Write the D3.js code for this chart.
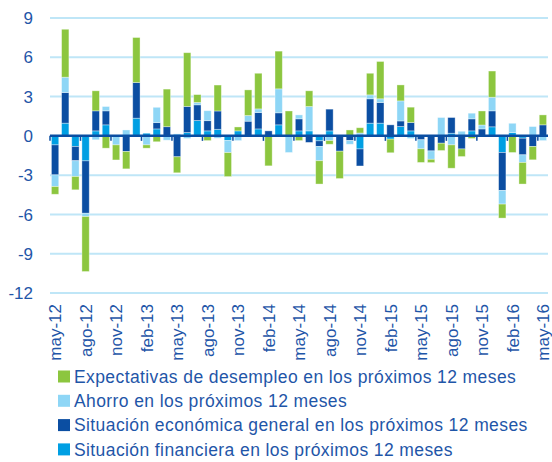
<!DOCTYPE html>
<html>
<head>
<meta charset="utf-8">
<script src="https://cdn.jsdelivr.net/npm/d3@7"></script>
<style>
  body { margin: 0; background: #fff; }
  text { font-family: "Liberation Sans", Arial, sans-serif; fill: #1f56a8; }
</style>
</head>
<body>
<div class="chart"></div>
<script>
var months = ["may-12","jun-12","jul-12","ago-12","sep-12","oct-12","nov-12","dic-12",
  "ene-13","feb-13","mar-13","abr-13","may-13","jun-13","jul-13","ago-13","sep-13","oct-13","nov-13","dic-13",
  "ene-14","feb-14","mar-14","abr-14","may-14","jun-14","jul-14","ago-14","sep-14","oct-14","nov-14","dic-14",
  "ene-15","feb-15","mar-15","abr-15","may-15","jun-15","jul-15","ago-15","sep-15","oct-15","nov-15","dic-15",
  "ene-16","feb-16","mar-16","abr-16","may-16"];

// Situación financiera en los próximos 12 meses
var financiera = [-0.69, 0.97, -0.81, -1.91, 0.38, 0.84, 0, 0, 1.35, 0.2, 0.53, 0, 0, 0.25, 1.17, 0.38, 0.5,
  -0.36, 0.38, 0, 0.53, 0, 0.84, 0, 0.38, 0.38, -0.38, 0.38, 0, 0, -1.0, 0.97, 0.97, -0.25, 0.71, 0.38,
  0, 0, 0, 0.2, 0, 0.38, 0, 0.69, -1.27, 0.25, -0.18, 0, 0];
// Situación económica general en los próximos 12 meses
var economica = [-2.29, 2.34, -1.09, -4.0, 1.53, 1.07, 0, -1.2, 2.72, 0, 0.48, 0.7, -1.6, 2.0, 1.2, 0.78, 1.4,
  0, 0, 1.12, 1.25, 0.38, 0.92, 0, 0.92, -0.5, -0.43, 1.66, -1.17, -0.36, -1.3, 1.86, 1.58, 0.84, 0.43, 0.64,
  -0.3, -1.15, -0.56, 1.2, -1.0, 0.92, 0.53, 1.22, -2.9, 0, -1.27, -0.81, 0.84];
// Ahorro en los próximos 12 meses
var ahorro = [-0.89, 1.17, -1.2, -0.25, -0.3, 0.33, -0.69, 0.45, 0, -0.69, 1.17, -0.33, 0.15, -0.2, 0.18, 0.76, -0.18,
  -0.92, -0.36, 0.43, 0.28, 0, 1.83, -1.27, 0.3, 1.86, -1.09, -0.36, 0, -0.28, 0.22, 0.3, 0.28, 0, 1.53, -0.2,
  -0.69, -0.64, 1.4, -0.69, 0.35, 0.43, 0.3, 1.04, -1.04, 0.71, -0.58, 0.71, -0.36];
// Expectativas de desempleo en los próximos 12 meses
var desempleo = [-0.59, 3.66, -1.02, -4.2, 1.53, -0.94, -1.15, -1.32, 3.44, -0.25, -0.45, 2.87, -1.22, 4.1, 0.6, -0.36, 1.98,
  -1.83, 0.3, 1.96, 2.72, -2.29, 2.88, 1.9, -0.36, 1.2, -1.78, -0.28, -2.09, 0.45, 0.4, 1.65, 2.85, -1.04, 1.22, 1.17,
  -1.04, -0.25, -0.56, -1.78, -0.58, -0.2, 1.07, 2.0, -1.07, -1.27, -1.65, -1.02, 0.76];

var yTicks = [9, 6, 3, 0, -3, -6, -9, -12];

var keys = ["financiera", "economica", "ahorro", "desempleo"];
var names = {
  desempleo: "Expectativas de desempleo en los próximos 12 meses",
  ahorro: "Ahorro en los próximos 12 meses",
  economica: "Situación económica general en los próximos 12 meses",
  financiera: "Situación financiera en los próximos 12 meses"
};
var color = d3.scaleOrdinal()
  .domain(keys)
  .range(["#009fe3", "#0b4ea2", "#8ed6f6", "#8cc63f"]);

var rows = months.map(function(m, i) {
  return { month: m, financiera: financiera[i], economica: economica[i], ahorro: ahorro[i], desempleo: desempleo[i] };
});

var width = 552, height = 462;

var x = d3.scaleBand()
  .domain(months)
  .range([50, 548])
  .paddingInner(0.28)
  .paddingOuter(0.14);

var y = d3.scaleLinear()
  .domain([-12, 9])
  .range([293, 18]);

var svg = d3.select(".chart").append("svg")
  .attr("width", width)
  .attr("height", height);

// gridlines
svg.append("g").selectAll("line")
  .data(yTicks.filter(function(d) { return d !== 0; }))
  .enter().append("line")
  .attr("x1", 50)
  .attr("x2", 548)
  .attr("y1", function(d) { return y(d); })
  .attr("y2", function(d) { return y(d); })
  .attr("stroke", "#bfe6f7")
  .attr("stroke-width", 2);

// y labels
svg.append("g").selectAll("text")
  .data(yTicks)
  .enter().append("text")
  .attr("x", 33)
  .attr("y", function(d) { return y(d); })
  .attr("dy", "0.36em")
  .attr("text-anchor", "end")
  .style("font-size", "17px")
  .text(function(d) { return d; });

var stack = d3.stack()
  .keys(keys)
  .offset(d3.stackOffsetDiverging);

var layer = svg.append("g").selectAll("g")
  .data(stack(rows))
  .enter().append("g")
  .attr("fill", function(d) { return color(d.key); });

layer.selectAll("rect")
  .data(function(d) { return d; })
  .enter().append("rect")
  .attr("x", function(d) { return x(d.data.month); })
  .attr("width", x.bandwidth())
  .attr("y", function(d) { return y(Math.max(d[0], d[1])); })
  .attr("height", function(d) { return Math.abs(y(d[0]) - y(d[1])); })
  .attr("stroke", "#ffffff")
  .attr("stroke-opacity", 0.45)
  .attr("stroke-width", 0.8);

// zero axis
var step = x.step();
svg.append("line")
  .attr("x1", 50)
  .attr("x2", 548)
  .attr("y1", y(0))
  .attr("y2", y(0))
  .attr("stroke", "#0b4ea2")
  .attr("stroke-width", 2.5);

var labelled = months.filter(function(m, i) { return i % 3 === 0; });

svg.append("g").selectAll("line")
  .data(labelled)
  .enter().append("line")
  .attr("x1", function(d) { return x(d) - step * x.paddingInner() / 2; })
  .attr("x2", function(d) { return x(d) - step * x.paddingInner() / 2; })
  .attr("y1", y(0))
  .attr("y2", y(0) + 5)
  .attr("stroke", "#0b4ea2")
  .attr("stroke-width", 1.5);

// x labels
svg.append("g").selectAll("text")
  .data(labelled)
  .enter().append("text")
  .attr("transform", function(d) {
    return "translate(" + (x(d) + x.bandwidth() / 2) + ",304) rotate(-90)";
  })
  .attr("dy", "0.36em")
  .attr("text-anchor", "end")
  .style("font-size", "17px")
  .text(function(d) { return d; });

// legend
var legendKeys = ["desempleo", "ahorro", "economica", "financiera"];
var legend = svg.append("g").selectAll("g")
  .data(legendKeys)
  .enter().append("g")
  .attr("transform", function(d, i) { return "translate(58," + (376.5 + i * 24.3) + ")"; });

legend.append("rect")
  .attr("x", 0)
  .attr("y", -6)
  .attr("width", 12)
  .attr("height", 12)
  .attr("fill", function(d) { return color(d); });

legend.append("text")
  .attr("x", 16)
  .attr("dy", "0.36em")
  .style("font-size", "17.5px")
  .style("letter-spacing", "0.4px")
  .text(function(d) { return names[d]; });
</script>
</body>
</html>
